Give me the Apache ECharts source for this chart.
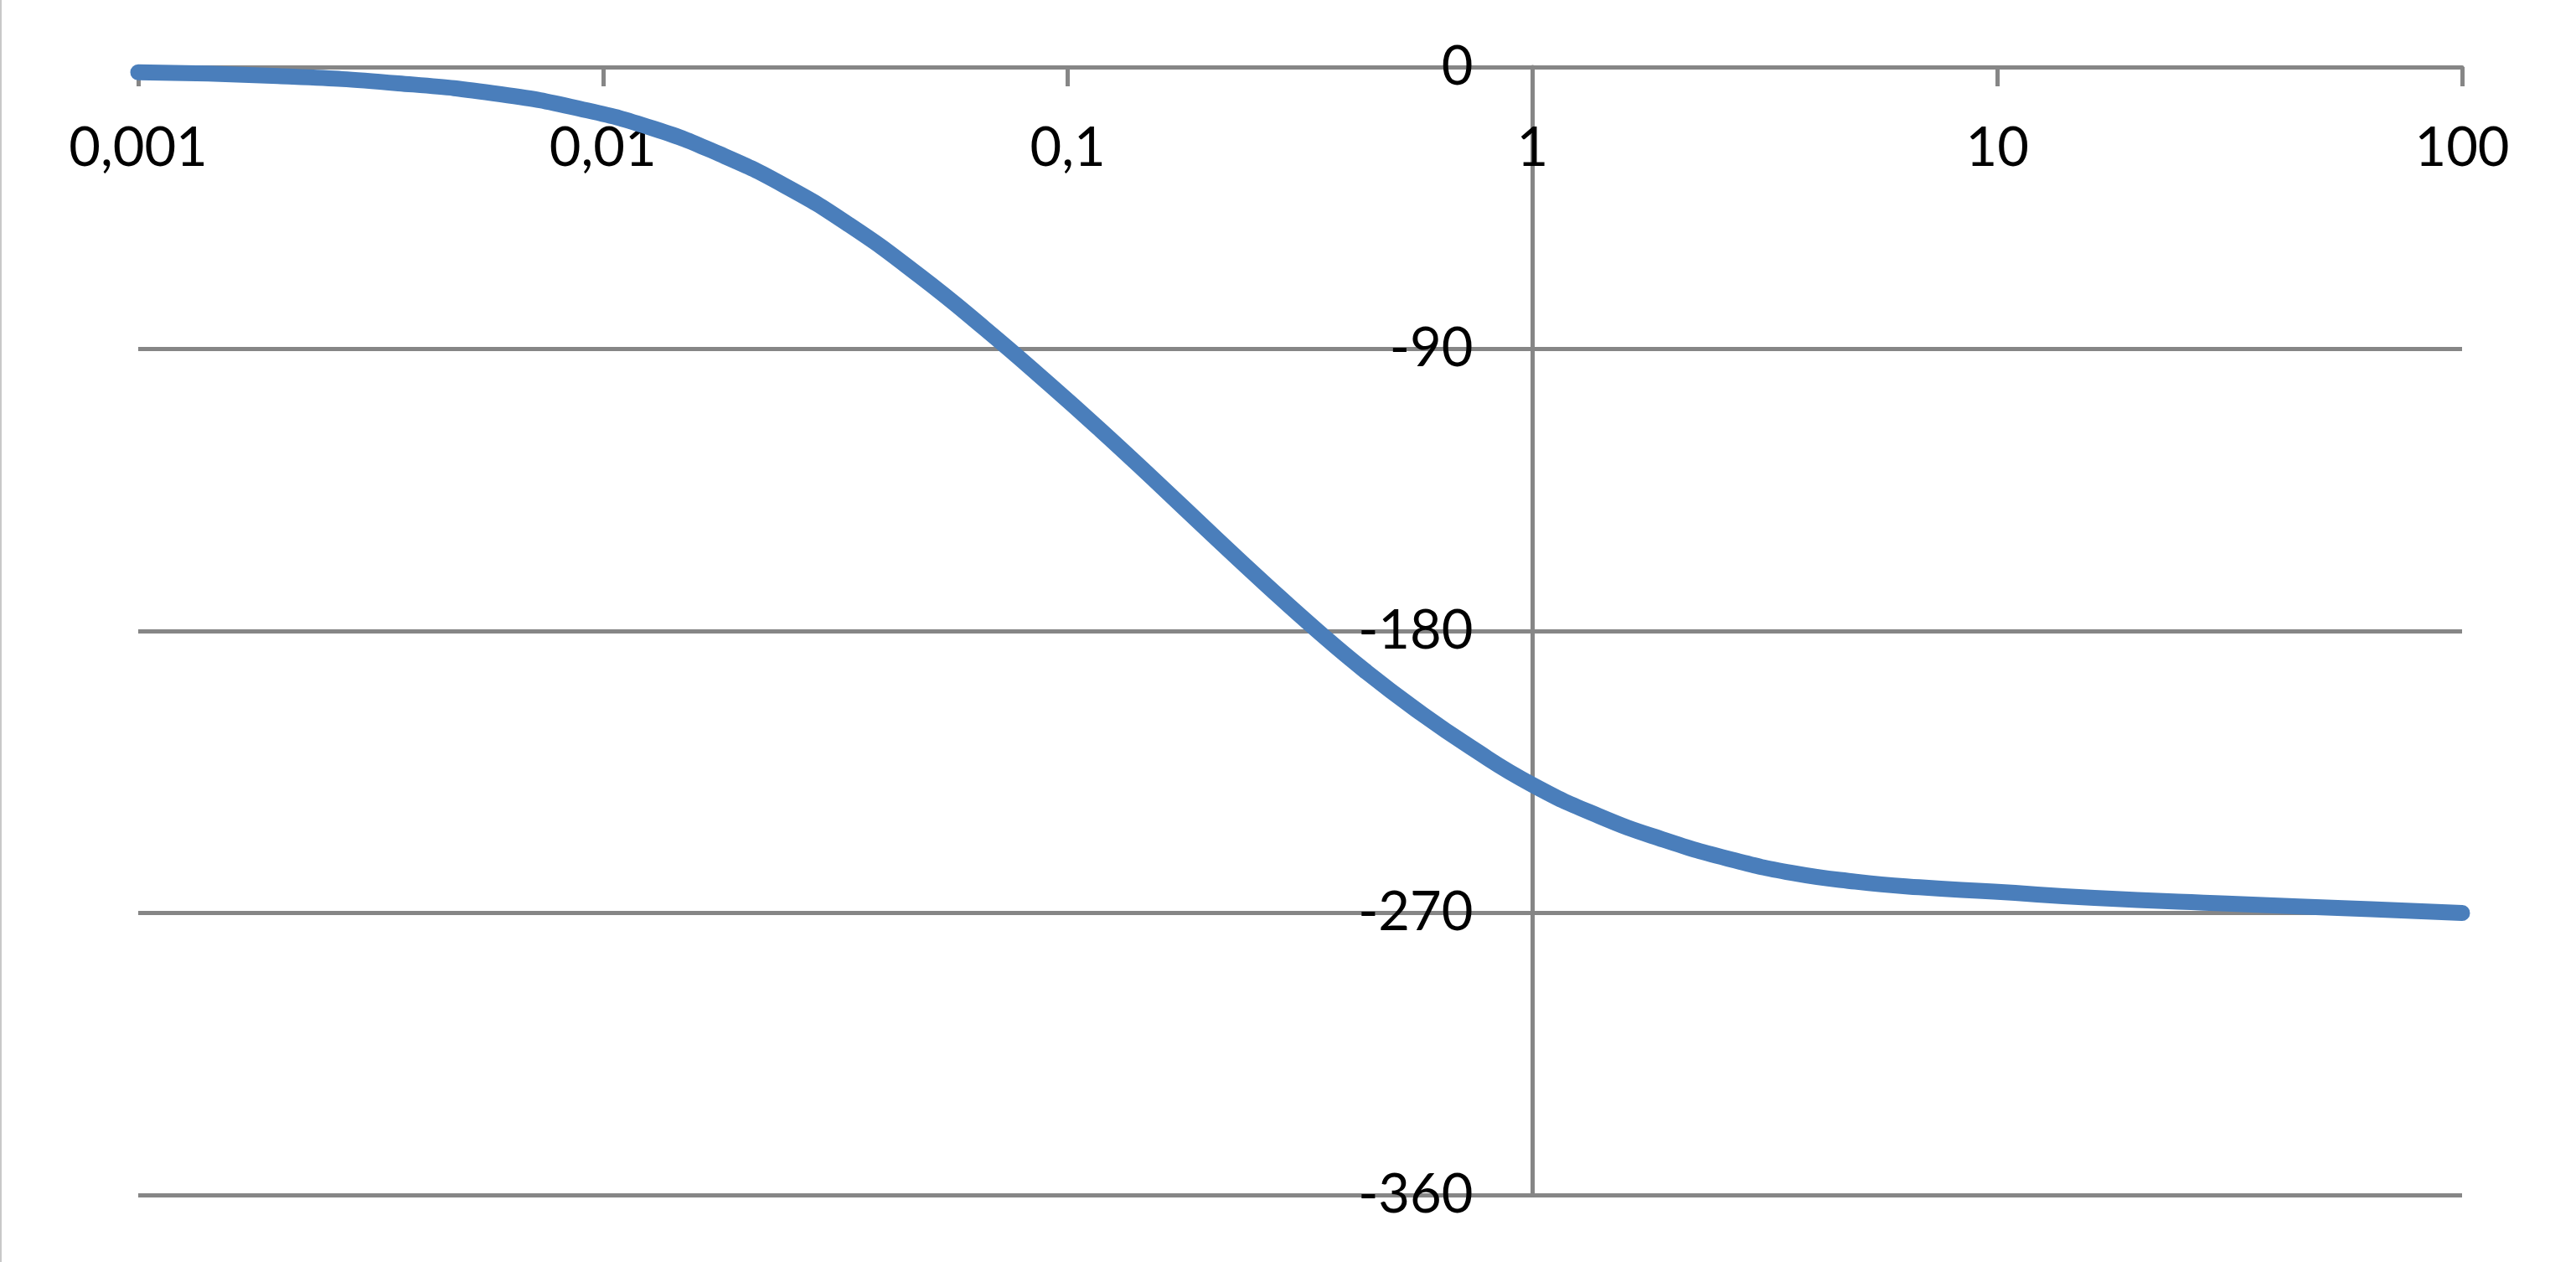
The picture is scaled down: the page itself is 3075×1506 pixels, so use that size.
<!DOCTYPE html>
<html>
<head>
<meta charset="utf-8">
<script src="https://cdn.jsdelivr.net/npm/echarts@6/dist/echarts.min.js"></script>
<style>
html,body{margin:0;padding:0;background:#fff;}
#chart{width:3075px;height:1506px;}
</style>
</head>
<body>
<div id="chart"></div>
<script>
// Frequency (x, log scale) and phase in degrees (y)
const freq  = [0.001, 0.002, 0.00363, 0.00603, 0.00891, 0.01288, 0.01778, 0.02455, 0.03388, 0.04786,
               0.06607, 0.0912, 0.1175, 0.1528, 0.2099, 0.267, 0.3443, 0.4345, 0.5604, 0.7379,
               1.0, 1.392, 1.912, 2.624, 3.614, 4.955, 6.792, 9.84, 16.18, 31.19, 63.68, 100];
const phase = [-1.7, -2.9, -5.2, -8.7, -13.3, -19.7, -27.7, -37.8, -50.4, -66.5,
               -83.3, -101.2, -115.8, -131.5, -150.8, -165.2, -179.9, -192.5, -205, -217.2,
               -229.1, -239.1, -246.6, -252.6, -257.2, -260, -261.8, -263.2, -265.2, -267, -268.8, -270];
const xTickLabels = ['0,001', '0,01', '0,1', '1', '10', '100'];
const yTicks = [-360, -270, -180, -90, 0];

const W = 3075, H = 1506;
const gridL = 165, gridR = 136, gridT = 80, gridB = 80;
const xMin = 0.001, xMax = 100, yCross = 1;
const gridW = W - gridL - gridR;
const yAxisOffset = -gridW * (Math.log10(yCross) - Math.log10(xMin)) / (Math.log10(xMax) - Math.log10(xMin));

const gray = '#868686';
const font = 'Lato, "Open Sans", "Liberation Sans", sans-serif';

const chart = echarts.init(document.getElementById('chart'), null, {renderer: 'canvas'});
chart.setOption({
  animation: false,
  backgroundColor: '#ffffff',
  grid: {left: gridL, right: gridR, top: gridT, bottom: gridB, containLabel: false},
  graphic: [{
    type: 'line', shape: {x1: 1, y1: 0, x2: 1, y2: H},
    style: {stroke: '#c8c8c8', lineWidth: 2}, silent: true
  }],
  xAxis: {
    type: 'log', logBase: 10, min: xMin, max: xMax, position: 'top',
    axisLine: {show: true, lineStyle: {color: gray, width: 5}},
    axisTick: {show: true, inside: true, length: 23, lineStyle: {color: gray, width: 5}},
    axisLabel: {
      inside: true, margin: 97, fontSize: 65, fontFamily: font, color: '#000',
      verticalAlign: 'middle',
      formatter: function (v, i) { return xTickLabels[i] !== undefined ? xTickLabels[i] : String(v).replace('.', ','); }
    },
    splitLine: {show: false},
    minorTick: {show: false}
  },
  yAxis: {
    type: 'value', min: yTicks[0], max: yTicks[yTicks.length - 1], interval: 90,
    position: 'left', offset: yAxisOffset,
    axisLine: {show: true, onZero: false, lineStyle: {color: gray, width: 5}},
    axisTick: {show: false},
    axisLabel: {margin: 71, fontSize: 65, fontFamily: font, color: '#000', align: 'right', verticalAlign: 'middle'},
    splitLine: {show: true, lineStyle: {color: gray, width: 5}}
  },
  series: [{
    type: 'line',
    data: freq.map((f, i) => [f, phase[i]]),
    smooth: 0.5,
    showSymbol: false,
    symbol: 'none',
    lineStyle: {color: '#4A7EBB', width: 19, cap: 'round', join: 'round'},
    z: 5
  }]
});
</script>
</body>
</html>
